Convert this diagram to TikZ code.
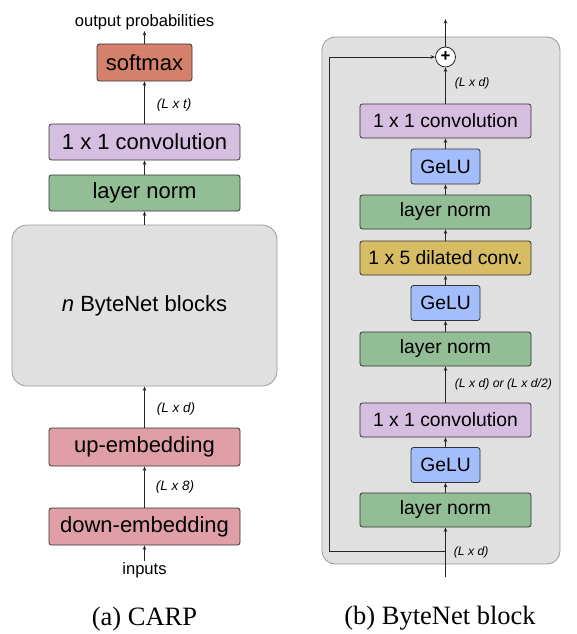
\documentclass[tikz,border=0pt]{standalone}
\usepackage{fontspec}
\setmainfont{Liberation Sans}
\newfontfamily\capfont{Liberation Serif}
\usetikzlibrary{arrows.meta}
\definecolor{smaxcol}{HTML}{D5806A}
\definecolor{convcol}{HTML}{D5BEE0}
\definecolor{normcol}{HTML}{93BE95}
\definecolor{embcol}{HTML}{E09EA6}
\definecolor{gelucol}{HTML}{A4BEFC}
\definecolor{dilcol}{HTML}{D6BD63}
\definecolor{blockcol}{HTML}{E0E0E0}
\tikzset{
  box/.style={draw=black!80, line width=0.8pt, rounded corners=2.5pt, inner sep=0pt},
  lbox/.style={box, minimum width=191pt, minimum height=36pt, font=\fontsize{22}{26}\selectfont},
  rbox/.style={box, minimum width=171pt, minimum height=34pt, font=\fontsize{19.3}{23}\selectfont},
  gbox/.style={box, minimum width=69pt, minimum height=35pt, fill=gelucol, font=\fontsize{19.3}{23}\selectfont},
  arr/.style={draw=black!85, line width=0.8pt, -{Stealth[length=4.5pt,width=3.5pt]}},
  dims/.style={font=\fontsize{13.5}{15}\selectfont\itshape, anchor=west, inner sep=0pt},
  rdims/.style={dims, font=\fontsize{12.2}{14}\selectfont\itshape}
}
\begin{document}
\begin{tikzpicture}[x=1pt, y=-1pt]
\useasboundingbox (0,0) rectangle (577,634);

% (a) CARP
\node (outp) [inner sep=1pt, font=\fontsize{16.6}{19}\selectfont] at (144.5,22) {output probabilities};
\node (smax) [box, fill=smaxcol, minimum width=95pt, minimum height=37pt, font=\fontsize{22}{26}\selectfont] at (144.5,62.5) {softmax};
\node (conv) [lbox, fill=convcol] at (144.5,142) {1 x 1 convolution};
\node (norm) [lbox, fill=normcol] at (144.5,193) {layer norm};
\node (blocks) [draw=black!40, line width=0.8pt, fill=blockcol, rounded corners=15pt, minimum width=265pt, minimum height=161pt, font=\fontsize{22}{26}\selectfont] at (144.5,305.5) {\textit{n} ByteNet blocks};
\node (up) [lbox, fill=embcol, minimum height=38pt] at (144.5,447) {up-embedding};
\node (down) [lbox, fill=embcol, minimum height=37pt] at (144.5,526.5) {down-embedding};
\node (inp) [inner sep=1pt, font=\fontsize{16.6}{19}\selectfont] at (144.5,570) {inputs};

\draw[arr] (inp) -- (down);
\draw[arr] (down) -- (up) node[dims, pos=0.5, xshift=11pt] {(L x 8)};
\draw[arr] (up) -- (blocks) node[dims, pos=0.45, xshift=12pt] {(L x d)};
\draw[arr] (blocks) -- (norm);
\draw[arr] (norm) -- (conv);
\draw[arr] (conv) -- (smax) node[dims, pos=0.45, xshift=12pt] {(L x t)};
\draw[arr] (smax) -- (outp);

\node (capa) [anchor=base, font=\capfont\fontsize{26.5}{31}\selectfont] at (144.5,625) {(a) CARP};

% (b) ByteNet block
\fill[blockcol, draw=black!40, line width=0.8pt, rounded corners=13pt] (322,37) rectangle (560,564);
\node (plus) [circle, draw=black!85, line width=0.8pt, fill=white, minimum size=20pt, inner sep=0pt, font=\fontsize{17}{17}\selectfont\bfseries] at (445.5,57) {+};
\node (conv2) [rbox, fill=convcol] at (445.5,121) {1 x 1 convolution};
\node (gelu3) [gbox] at (445.5,166.5) {GeLU};
\node (ln3) [rbox, fill=normcol] at (445.5,212) {layer norm};
\node (dil) [rbox, fill=dilcol] at (445.5,258) {1 x 5 dilated conv.};
\node (gelu2) [gbox] at (445.5,303) {GeLU};
\node (ln2) [rbox, fill=normcol] at (445.5,349) {layer norm};
\node (conv1) [rbox, fill=convcol] at (445.5,420) {1 x 1 convolution};
\node (gelu1) [gbox] at (445.5,465) {GeLU};
\node (ln1) [rbox, fill=normcol] at (445.5,510) {layer norm};
\coordinate (xin) at (445.5,577);
\coordinate (split) at (445.5,551);
\coordinate (skip) at (329.5,551);
\coordinate (xout) at (445.5,19);

\draw[arr] (xin) -- (ln1.south) node[rdims, pos=0.5, xshift=8pt] {(L x d)};
\draw[arr] (ln1) -- (gelu1);
\draw[arr] (gelu1) -- (conv1);
\draw[arr] (conv1) -- (ln2) node[rdims, pos=0.5, xshift=9pt] {(L x d) or (L x d/2)};
\draw[arr] (ln2) -- (gelu2);
\draw[arr] (gelu2) -- (dil);
\draw[arr] (dil) -- (ln3);
\draw[arr] (ln3) -- (gelu3);
\draw[arr] (gelu3) -- (conv2);
\draw[arr] (conv2) -- (plus) node[rdims, pos=0.55, xshift=9pt] {(L x d)};
\draw[arr] (split) -- (skip) |- (plus.west);
\draw[arr] (plus) -- (xout);

\node (capb) [anchor=base, font=\capfont\fontsize{26.5}{31}\selectfont] at (440,624) {(b) ByteNet block};
\end{tikzpicture}
\end{document}
